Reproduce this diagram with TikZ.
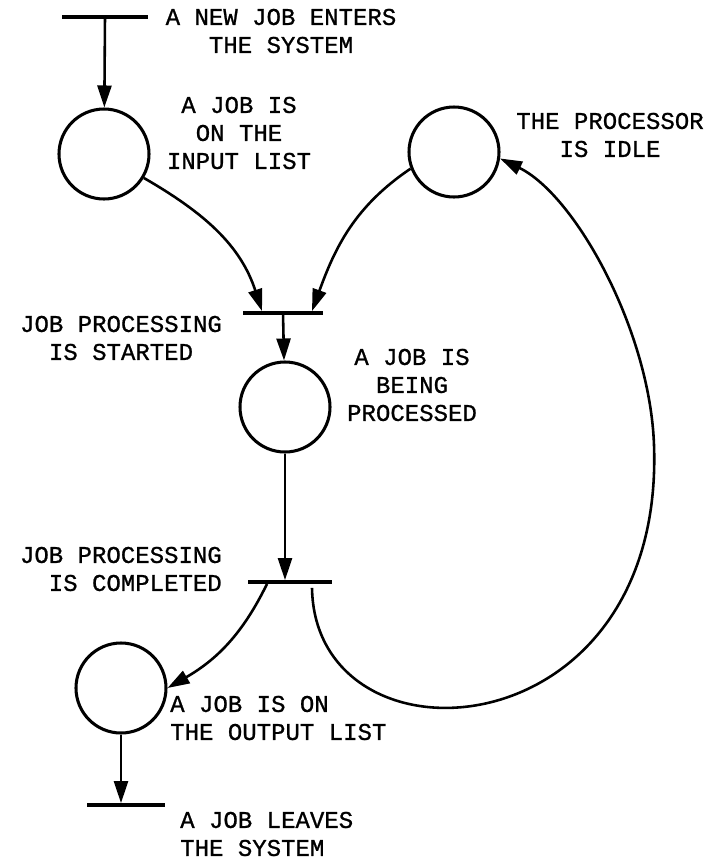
\documentclass[tikz,border=0pt]{standalone}
\usepackage{fontspec}
\setmonofont[FakeBold=0.9]{Liberation Mono}
\usetikzlibrary{arrows.meta,calc}
\newcommand\petrifont{\ttfamily\fontsize{20.5}{23.9}\selectfont}

\begin{document}
\begin{tikzpicture}[x=0.03cm,y=-0.03cm,
            place/.style={draw,circle,line width=2.6pt,minimum size=2.7cm,inner sep=0},
            transition/.style={fill,minimum height=0.1cm,inner sep=0},
            flow/.style={-{Triangle[length=0.66cm,width=0.42cm]},line width=2.2pt},
            note/.style={font=\petrifont,align=center,inner sep=0}]

            \useasboundingbox (0,0) rectangle (711,861);

            % places
            \node[place] (input) at (104,154) {};
            \node[place] (idle) at (454,152) {};
            \node[place] (busy) at (285,407) {};
            \node[place] (output) at (121,688) {};

            % transitions
            \node[transition,minimum width=2.55cm] (enter) at (105,17) {};
            \node[transition,minimum width=2.4cm] (start) at (283,313) {};
            \node[transition,minimum width=2.52cm] (finish) at (290,582) {};
            \node[transition,minimum width=2.31cm] (leave) at (126,805) {};

            % labels
            \node[note] (enterlbl) at (281,31) {A NEW JOB ENTERS\\THE SYSTEM};
            \node[note] (inputlbl) at (239,133) {A JOB IS\\ON THE\\INPUT LIST};
            \node[note] (idlelbl) at (610,135) {THE PROCESSOR\\IS IDLE};
            \node[note] (startlbl) at (121,338) {JOB PROCESSING\\IS STARTED};
            \node[note] (busylbl) at (412,385) {A JOB IS\\BEING\\PROCESSED};
            \node[note,align=right,anchor=east] (finishlbl) at (222,569) {JOB PROCESSING\\IS COMPLETED};
            \node[note,align=left,anchor=west] (outputlbl) at (170,718) {A JOB IS ON\\THE OUTPUT LIST};
            \node[note,align=left,anchor=west] (leavelbl) at (180,834) {A JOB LEAVES\\THE SYSTEM};

            % arcs
            \draw[flow] (enter) -- (input);
            \draw[flow] (input.-31) to[out=-30,in=108] ($(start.north)+(-21,0)$);
            \draw[flow] (idle.-159) to[out=-146,in=70] ($(start.north)+(29,0)$);
            \draw[flow] (start) -- (busy);
            \draw[flow] (busy) -- (busy |- finish.north);
            \draw[flow] ($(finish.south)+(-23,0)$) to[out=-116,in=30] (output.east);
            \draw[flow] ($(finish.south)+(22,4)$) .. controls (315,775) and (665,755) .. (654,445)
                .. controls (650,330) and (575,195) .. (idle.-8);
            \draw[flow] (output) -- (output |- leave.north);
        \end{tikzpicture}
\end{document}
